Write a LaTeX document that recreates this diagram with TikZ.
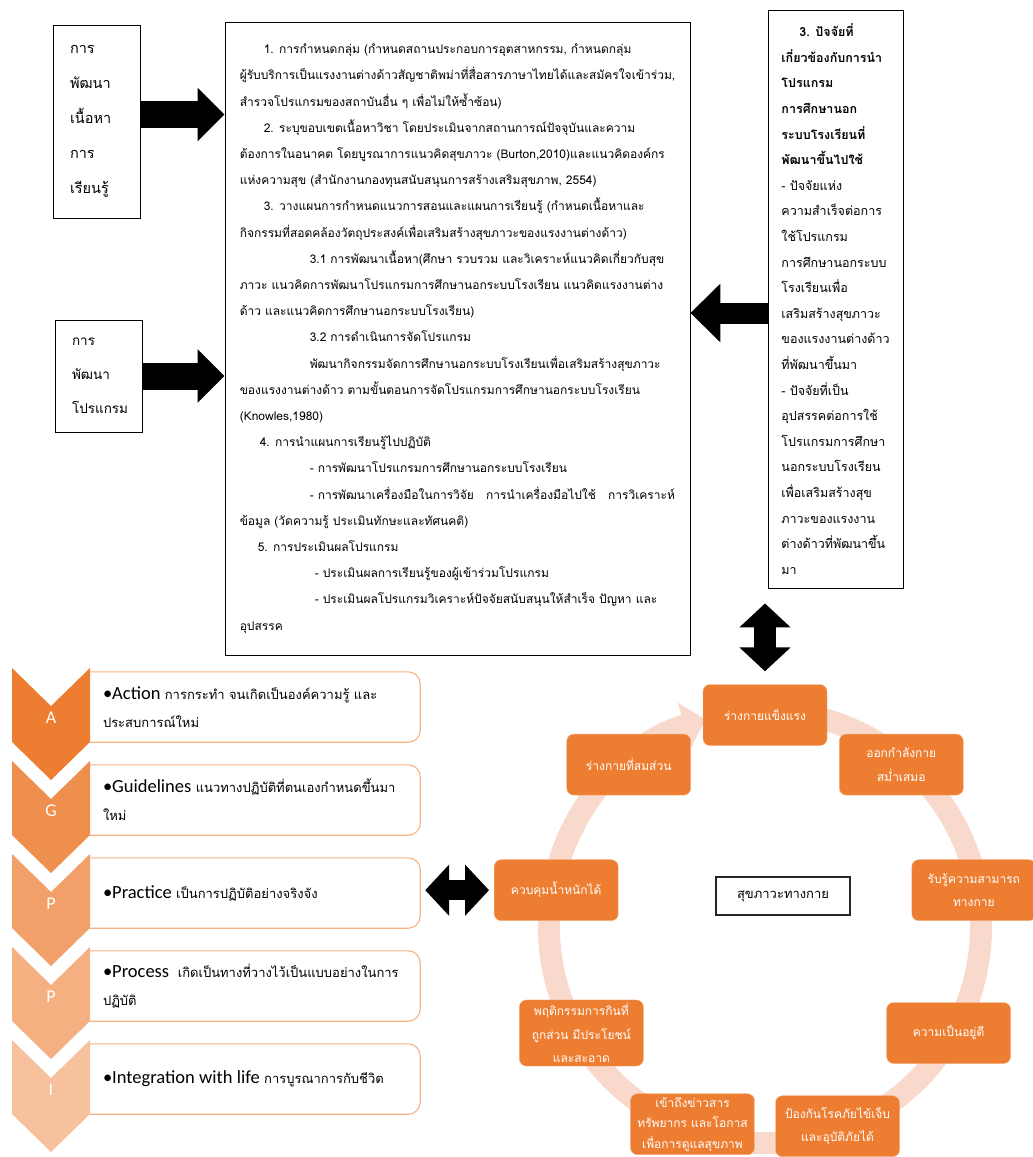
\documentclass[tikz,border=0pt]{standalone}
\usepackage{fontspec}
\setmainfont{Liberation Sans}
\newfontfamily\thaifont[Script=Thai]{Loma}
\newfontfamily\calfont{Carlito}
\usetikzlibrary{calc}
\usetikzlibrary{arrows.meta, positioning}
\definecolor{ringorange}{RGB}{237, 125, 49}
\definecolor{ringpink}{RGB}{248, 217, 203}
\definecolor{boxline}{RGB}{244, 177, 131}
\setlength\parindent{0pt}

\newcommand\ind[1]{\hspace*{#1pt}}
\newcommand\eng[1]{{\calfont\fontsize{18.5}{28}\selectfont #1}}

\tikzset{
  framebox/.style={draw, line width=0.9pt, align=left, inner sep=0pt},
  blockarrow/.style={line width=27pt, -{Triangle[length=27pt, width=52pt]}},
  backarrow/.style={line width=21pt, -{Triangle[length=30pt, width=57pt]}},
  twoway/.style={line width=#1, {Triangle[length=24pt, width=50pt]}-{Triangle[length=24pt, width=50pt]}},
  cyclebox/.style={rectangle, rounded corners=7pt, fill=ringorange, draw=ringorange!60!white,
    text=white, minimum width=124pt, minimum height=61pt, align=center,
    font=\thaifont\fontsize{12}{23.5}\selectfont},
  chevletter/.style={text=white, font=\calfont\fontsize{18}{20}\selectfont},
  stepnote/.style={minimum width=330pt, minimum height=70pt, text width=316pt, inner xsep=0pt,
    align=left, font=\thaifont\fontsize{13}{28}\selectfont},
  notebox/.style={draw=boxline, line width=1.1pt, rounded corners=12pt}
}

\begin{document}
\begin{tikzpicture}[x=1pt, y=-1pt]
  \useasboundingbox (0,0) rectangle (1033,1157);

  % left frames
  \node[framebox, minimum width=87pt, minimum height=193pt, text width=53pt,
    font=\thaifont\fontsize{14.5}{35}\selectfont]
    (content) at (96.5,121.5) {การ\\%
    พัฒนา\\%
    เนื้อหา\\%
    การ\\%
    เรียนรู้};
  \node[framebox, minimum width=87pt, minimum height=112pt, text width=53pt,
    font=\thaifont\fontsize{13.5}{34}\selectfont]
    (program) at (98.5,376) {การ\\%
    พัฒนา\\%
    โปรแกรม};

  % main steps
  \node[framebox, minimum width=465pt, minimum height=633pt, font=\thaifont\fontsize{12}{26.2}\selectfont]
    (plan) at (457.5,338.5) {%
    \ind{24}1. การกำหนดกลุ่ม (กำหนดสถานประกอบการอุตสาหกรรม, กำหนดกลุ่ม\\%
    ผู้รับบริการเป็นแรงงานต่างด้าวสัญชาติพม่าที่สื่อสารภาษาไทยได้และสมัครใจเข้าร่วม,\\%
    สำรวจโปรแกรมของสถาบันอื่น ๆ เพื่อไม่ให้ซ้ำซ้อน)\\%
    \ind{24}2. ระบุขอบเขตเนื้อหาวิชา โดยประเมินจากสถานการณ์ปัจจุบันและความ\\%
    ต้องการในอนาคต โดยบูรณาการแนวคิดสุขภาวะ (Burton,2010)และแนวคิดองค์กร\\%
    แห่งความสุข (สำนักงานกองทุนสนับสนุนการสร้างเสริมสุขภาพ, 2554)\\%
    \ind{24}3. วางแผนการกำหนดแนวการสอนและแผนการเรียนรู้ (กำหนดเนื้อหาและ\\%
    กิจกรรมที่สอดคล้องวัตถุประสงค์เพื่อเสริมสร้างสุขภาวะของแรงงานต่างด้าว)\\%
    \ind{70}3.1 การพัฒนาเนื้อหา(ศึกษา รวบรวม และวิเคราะห์แนวคิดเกี่ยวกับสุข\\%
    ภาวะ แนวคิดการพัฒนาโปรแกรมการศึกษานอกระบบโรงเรียน แนวคิดแรงงานต่าง\\%
    ด้าว และแนวคิดการศึกษานอกระบบโรงเรียน)\\%
    \ind{70}3.2 การดำเนินการจัดโปรแกรม\\%
    \ind{70}พัฒนากิจกรรมจัดการศึกษานอกระบบโรงเรียนเพื่อเสริมสร้างสุขภาวะ\\%
    ของแรงงานต่างด้าว ตามขั้นตอนการจัดโปรแกรมการศึกษานอกระบบโรงเรียน\\%
    (Knowles,1980)\\%
    \ind{20}4. การนำแผนการเรียนรู้ไปปฏิบัติ\\%
    \ind{70}- การพัฒนาโปรแกรมการศึกษานอกระบบโรงเรียน\\%
    \ind{70}- การพัฒนาเครื่องมือในการวิจัย\ \ \ การนำเครื่องมือไปใช้\ \ \ การวิเคราะห์\\%
    ข้อมูล (วัดความรู้ ประเมินทักษะและทัศนคติ)\\%
    \ind{18}5. การประเมินผลโปรแกรม\\%
    \ind{75}- ประเมินผลการเรียนรู้ของผู้เข้าร่วมโปรแกรม\\%
    \ind{75}- ประเมินผลโปรแกรมวิเคราะห์ปัจจัยสนับสนุนให้สำเร็จ ปัญหา และ\\%
    อุปสรรค};

  % factors
  \node[framebox, minimum width=135pt, minimum height=578pt, font=\thaifont\fontsize{12.5}{25.6}\selectfont]
    (factor) at (835.5,299) {%
    {\bfseries\ind{18}3. ปัจจัยที่}\\%
    {\bfseries เกี่ยวข้องกับการนำ}\\%
    {\bfseries โปรแกรม}\\%
    {\bfseries การศึกษานอก}\\%
    {\bfseries ระบบโรงเรียนที่}\\%
    {\bfseries พัฒนาขึ้นไปใช้}\\%
    - ปัจจัยแห่ง\\%
    ความสำเร็จต่อการ\\%
    ใช้โปรแกรม\\%
    การศึกษานอกระบบ\\%
    โรงเรียนเพื่อ\\%
    เสริมสร้างสุขภาวะ\\%
    ของแรงงานต่างด้าว\\%
    ที่พัฒนาขึ้นมา\\%
    - ปัจจัยที่เป็น\\%
    อุปสรรคต่อการใช้\\%
    โปรแกรมการศึกษา\\%
    นอกระบบโรงเรียน\\%
    เพื่อเสริมสร้างสุข\\%
    ภาวะของแรงงาน\\%
    ต่างด้าวที่พัฒนาขึ้น\\%
    มา};

  \coordinate (a1) at ([yshift=7pt]content.east);
  \draw[blockarrow] (a1) -- (a1 -| plan.west);
  \draw[blockarrow] (program.east) -- (program.east -| plan.west);
  \coordinate (a3) at ([yshift=-14pt]factor.west);
  \draw[backarrow] (a3) -- (a3 -| plan.east);

  % AGPPI chevrons
  \foreach \i/\ltr/\shade/\nm/\txt in {
    0/A/100/act/{\ind{6}\eng{•Action} การกระทำ จนเกิดเป็นองค์ความรู้ และ\\\ind{6}ประสบการณ์ใหม่},
    1/G/86/guide/{\ind{6}\eng{•Guidelines} แนวทางปฏิบัติที่ตนเองกำหนดขึ้นมา\\\ind{6}ใหม่},
    2/P/73/prac/{\ind{6}\eng{•Practice} เป็นการปฏิบัติอย่างจริงจัง},
    3/P/61/proc/{\ind{6}\eng{•Process}\ \ เกิดเป็นทางที่วางไว้เป็นแบบอย่างในการ\\\ind{6}ปฏิบัติ},
    4/I/48/integ/{\ind{6}\eng{•Integration with life} การบูรณาการกับชีวิต}}{
    \pgfmathsetmacro\yc{718+93*\i}
    \fill[ringorange!\shade!white] (12,\yc-50) -- (51,\yc-12) -- (90,\yc-50) -- (90,\yc+24)
      -- (51,\yc+62) -- (12,\yc+24) -- cycle;
    \node[chevletter] (ltr\i) at (51,\yc) {\ltr};
    \node[stepnote] (\nm) at (255,\yc-11) {\txt};
    \draw[notebox] (\nm.north west) -- (\nm.north east) -- (\nm.south east) -- (\nm.south west);
  }

  % physical well-being cycle
  \coordinate (hub) at (765,927);
  \draw[line width=22pt, ringpink, -{Triangle[length=22pt, width=46pt]}]
    ([shift={(-80:216)}]hub) arc[start angle=-80, end angle=254, radius=216];

  \foreach \ang/\nm/\txt in {
    -90/strong/{ร่างกายแข็งแรง},
    -50/exercise/{ออกกำลังกาย\\สม่ำเสมอ},
    -10/perceive/{รับรู้ความสามารถ\\ทางกาย},
    30/wellbeing/{ความเป็นอยู่ดี},
    70/prevent/{ป้องกันโรคภัยไข้เจ็บ\\และอุบัติภัยได้},
    150/eating/{พฤติกรรมการกินที่\\ถูกส่วน มีประโยชน์\\และสะอาด},
    190/weight/{ควบคุมน้ำหนักได้},
    230/shape/{ร่างกายที่สมส่วน}}{
    \node[cyclebox] (\nm) at ([shift={(\ang:212)}]hub) {\txt};
  }
  \node[cyclebox, font=\thaifont\fontsize{12}{20.5}\selectfont, yshift=2pt] (access)
    at ([shift={(110:212)}]hub) {เข้าถึงข่าวสาร\\ทรัพยากร และโอกาส\\เพื่อการดูแลสุขภาพ};

  \node[draw=black!85, line width=1.5pt, fill=white, minimum width=134pt, minimum height=38pt,
    font=\thaifont\fontsize{13}{14}\selectfont] (physical) at (783,896) {สุขภาวะทางกาย};

  \draw[twoway=22pt, shorten <=13pt, shorten >=15pt] (strong.north) -- (strong.north |- factor.south);
  \draw[twoway=20pt, shorten <=5pt, shorten >=5pt] (weight.west) -- (weight.west -| prac.east);
\end{tikzpicture}
\end{document}
